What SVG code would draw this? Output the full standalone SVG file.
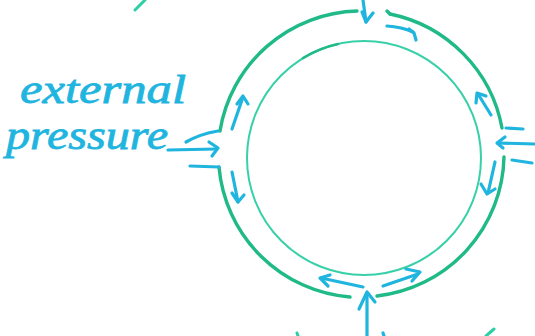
<svg xmlns="http://www.w3.org/2000/svg" width="535" height="336" viewBox="0 0 535 336">
<style>
.outer{fill:none;stroke:#1fba88;stroke-width:3.4;stroke-linecap:round}
.inner{fill:none;stroke:#38d0a8;stroke-width:2;stroke-linecap:round}
.ar{fill:none;stroke:#1fb5df;stroke-width:3.2;stroke-linecap:round;stroke-linejoin:round}
.frag{fill:none;stroke:#2ccfa6;stroke-width:3;stroke-linecap:round}
.lbl{font-family:"Liberation Serif",serif;font-style:italic;font-size:40px;fill:#1fb5df;stroke:#1fb5df;stroke-width:0.8}
</style>
<rect width="535" height="336" fill="#ffffff"/>
<g id="ring-outer">
<path class="outer" d="M390,14 A143,143 0 0 1 502,128"/>
<path class="outer" d="M504,157 A143,143 0 0 1 377,296"/>
<path class="outer" d="M350,297 A143,143 0 0 1 219,167"/>
<path class="outer" d="M220,131 A143,143 0 0 1 357,11"/>
<path class="outer" d="M390,14 L387,11"/>
</g>
<g id="ring-inner">
<circle class="inner" cx="364" cy="158" r="117"/>
<path d="M303,58 A117,117 0 0 1 338,44" fill="none" stroke="#1fba88" stroke-width="2.6" stroke-linecap="round"/>
</g>
<g id="label-external-pressure">
<text class="lbl" x="20" y="103" textLength="166" lengthAdjust="spacingAndGlyphs">external</text>
<text class="lbl" x="6" y="149" textLength="162" lengthAdjust="spacingAndGlyphs">pressure</text>
</g>
<g id="arrows">
<path class="ar" d="M186,142 Q200,134 218,131"/>
<path class="ar" d="M168,150 L216,149"/>
<path class="ar" d="M209,142 L218,148 L212,156"/>
<path class="ar" d="M190,166 L219,167"/>
<path class="ar" d="M506,128 L523,129"/>
<path class="ar" d="M535,144 L498,143"/>
<path class="ar" d="M505,137 L497,143 L503,148"/>
<path class="ar" d="M512,160 L532,163"/>
<path class="ar" d="M363,0 L366,22 L373,13"/>
<path class="ar" d="M362,12 L366,22"/>
<path class="ar" d="M367,336 L367,293"/>
<path class="ar" d="M359,309 L367,292 L375,302"/>
<path class="ar" d="M387,26 Q402,27 413,32"/>
<path class="ar" d="M409,29 L414,33 L416,40"/>
<path class="ar" d="M491,115 L478,94"/>
<path class="ar" d="M476,103 L477,93 L486,96"/>
<path class="ar" d="M495,162 L488,193"/>
<path class="ar" d="M481,184 L487,194 L495,189"/>
<path class="ar" d="M232,129 L243,97"/>
<path class="ar" d="M237,104 L243,96 L248,104"/>
<path class="ar" d="M232,172 L238,202"/>
<path class="ar" d="M232,193 L238,202 L244,195"/>
<path class="ar" d="M363,287 L321,278"/>
<path class="ar" d="M330,275 L320,278 L328,286"/>
<path class="ar" d="M383,286 L418,274"/>
<path class="ar" d="M406,269 L420,272 L412,281"/>
</g>
<g id="fragments">
<path class="frag" d="M135,10 L145,0"/>
<path class="frag" d="M297,333 L298,336"/>
<path class="ar" d="M383,333 L384,336"/>
<path class="frag" d="M486,336 L494,329"/>
</g>
</svg>
